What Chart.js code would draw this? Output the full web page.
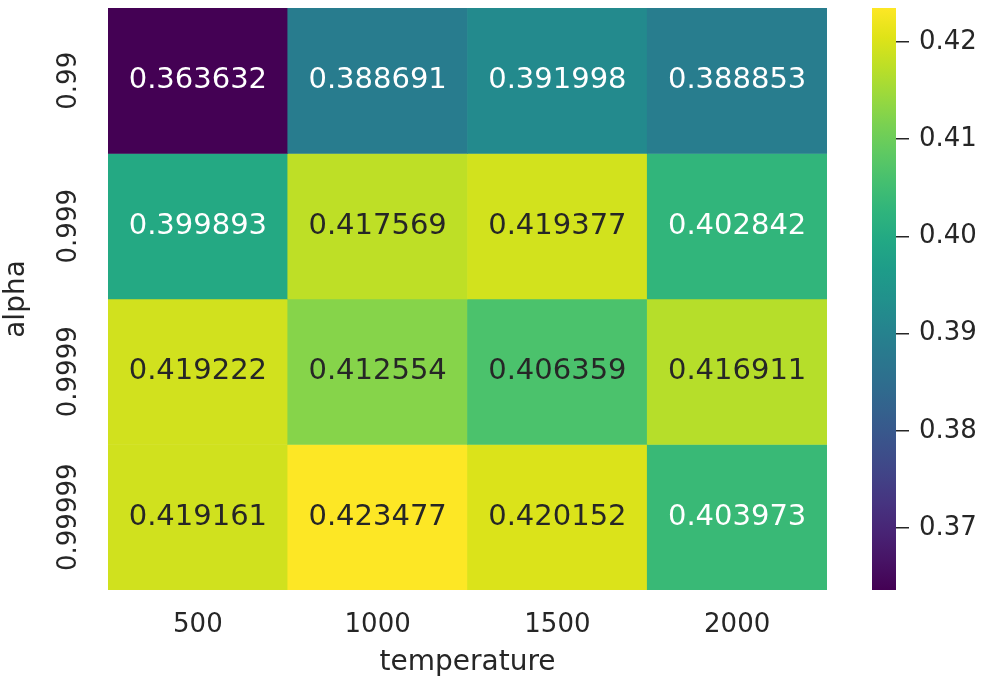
<!DOCTYPE html>
<html>
<head>
<meta charset="utf-8">
<script src="https://cdn.jsdelivr.net/npm/chart.js@4.4.0/dist/chart.umd.min.js"></script>
<style>
  body { margin: 0; background: #fff; width: 995px; height: 688px; overflow: hidden; position: relative; }
  #heat { position: absolute; left: 0; top: 0; }
  #cbar { position: absolute; left: 850px; top: 0; }
</style>
</head>
<body>
<canvas id="heat" width="850" height="688"></canvas>
<canvas id="cbar" width="145" height="688"></canvas>
<script>
// grid search results: rows = alpha, columns = temperature
const temperatures = ["500", "1000", "1500", "2000"];
const alphas = ["0.99", "0.999", "0.9999", "0.99999"];
const alpha099 = [0.363632, 0.388691, 0.391998, 0.388853];
const alpha0999 = [0.399893, 0.417569, 0.419377, 0.402842];
const alpha09999 = [0.419222, 0.412554, 0.406359, 0.416911];
const alpha099999 = [0.419161, 0.423477, 0.420152, 0.403973];
const cbarTicks = [0.37, 0.38, 0.39, 0.40, 0.41, 0.42];

const rows = [alpha099, alpha0999, alpha09999, alpha099999];
const allValues = rows.flat();
const vmin = Math.min(...allValues);
const vmax = Math.max(...allValues);

const TEXT_DARK = "#262626";
Chart.defaults.font.family = "'DejaVu Sans', sans-serif";

/* ------------------------------
   VIRIDIS COLORMAP
--------------------------------*/
const viridis = [
    "#440154", "#471365", "#482475", "#463480", "#414487", "#3b528b", "#355f8d",
    "#2f6c8e", "#2a788e", "#25848e", "#21918c", "#1e9c89", "#22a884", "#2fb47c",
    "#44bf70", "#5ec962", "#7ad151", "#9bd93c", "#bddf26", "#dfe318", "#fde725"
];

function hexToRgb(h) {
    return [1, 3, 5].map(i => parseInt(h.substr(i, 2), 16));
}

function colorRgb(v) {
    let t = (v - vmin) / (vmax - vmin);
    t = Math.max(0, Math.min(1, t));
    const pos = t * (viridis.length - 1);
    const i = Math.min(Math.floor(pos), viridis.length - 2);
    const f = pos - i;
    const a = hexToRgb(viridis[i]), b = hexToRgb(viridis[i + 1]);
    return a.map((c, k) => Math.round(c + (b[k] - c) * f));
}

function colorFor(v) {
    const c = colorRgb(v);
    return `rgb(${c[0]},${c[1]},${c[2]})`;
}

// white text on dark cells, dark text on light ones
function textColorFor(v) {
    const lin = colorRgb(v).map(c => {
        c /= 255;
        return c <= 0.03928 ? c / 12.92 : Math.pow((c + 0.055) / 1.055, 2.4);
    });
    const lum = 0.2126 * lin[0] + 0.7152 * lin[1] + 0.0722 * lin[2];
    return lum > 0.408 ? TEXT_DARK : "#ffffff";
}

/* ------------------------------
   PLUGINS
--------------------------------*/
const cellLabels = {
    id: "cellLabels",
    afterDatasetsDraw(chart) {
        const ctx = chart.ctx;
        ctx.save();
        ctx.font = "29px 'DejaVu Sans'";
        ctx.textAlign = "center";
        ctx.textBaseline = "middle";
        chart.data.datasets.forEach((ds, r) => {
            chart.getDatasetMeta(r).data.forEach((el, c) => {
                const v = rows[r][c];
                ctx.fillStyle = textColorFor(v);
                ctx.fillText(v.toFixed(6), el.x, (el.y + el.base) / 2);
            });
        });
        ctx.restore();
    }
};

const rowLabels = {
    id: "rowLabels",
    afterDraw(chart) {
        const ctx = chart.ctx;
        const ys = chart.scales.y;
        ctx.save();
        ctx.font = "26px 'DejaVu Sans'";
        ctx.fillStyle = TEXT_DARK;
        ctx.textAlign = "center";
        ctx.textBaseline = "middle";
        alphas.forEach((a, r) => {
            ctx.save();
            ctx.translate(69, ys.getPixelForValue(r + 0.5));
            ctx.rotate(-Math.PI / 2);
            ctx.fillText(a, 0, 0);
            ctx.restore();
        });
        ctx.restore();
    }
};

/* ------------------------------
   HEATMAP
--------------------------------*/
new Chart(document.getElementById("heat"), {
    type: "bar",
    data: {
        labels: temperatures,
        datasets: rows.map((vals, r) => ({
            label: alphas[r],
            data: vals.map(() => [r, r + 1]),
            backgroundColor: vals.map(colorFor),
            borderWidth: 0,
            barPercentage: 1,
            categoryPercentage: 1,
            grouped: false
        }))
    },
    options: {
        responsive: false,
        animation: false,
        layout: { padding: { top: 8, right: 23, left: 0, bottom: 0 } },
        plugins: { legend: { display: false }, tooltip: { enabled: false } },
        scales: {
            x: {
                grid: { display: false, drawTicks: false },
                border: { display: false },
                ticks: { color: TEXT_DARK, font: { size: 26 }, padding: 20 },
                title: {
                    display: true, text: "temperature", color: TEXT_DARK,
                    font: { size: 28 }, padding: { top: 0, bottom: 8 }
                },
                afterFit: s => { s.height = 98; }
            },
            y: {
                min: 0, max: 4, reverse: true,
                grid: { display: false, drawTicks: false },
                border: { display: false },
                ticks: { display: false },
                title: {
                    display: true, text: "alpha", color: TEXT_DARK,
                    font: { size: 28 }, padding: { top: 0, bottom: 10 }
                },
                afterFit: s => { s.width = 108; }
            }
        }
    },
    plugins: [cellLabels, rowLabels]
});

/* ------------------------------
   COLORBAR
--------------------------------*/
new Chart(document.getElementById("cbar"), {
    type: "bar",
    data: {
        labels: [""],
        datasets: [{
            data: [[vmin, vmax]],
            borderWidth: 0,
            barPercentage: 1,
            categoryPercentage: 1,
            backgroundColor: ctx => {
                const area = ctx.chart.chartArea;
                if (!area) return viridis[0];
                const g = ctx.chart.ctx.createLinearGradient(0, area.bottom, 0, area.top);
                viridis.forEach((c, i) => g.addColorStop(i / (viridis.length - 1), c));
                return g;
            }
        }]
    },
    options: {
        responsive: false,
        animation: false,
        layout: { padding: { top: 8, bottom: 98, left: 22, right: 0 } },
        plugins: { legend: { display: false }, tooltip: { enabled: false } },
        scales: {
            x: { display: false },
            y: {
                position: "right",
                min: vmin, max: vmax,
                afterBuildTicks: s => { s.ticks = cbarTicks.map(v => ({ value: v })); },
                ticks: {
                    color: TEXT_DARK, font: { size: 26 }, padding: 10,
                    callback: v => v.toFixed(2)
                },
                grid: { drawOnChartArea: false, tickLength: 13, color: TEXT_DARK, lineWidth: 1.5 },
                border: { display: false },
                afterFit: s => {
                    s.width = 99;
                    // tick labels sit well inside the bar, no extra room needed
                    s.paddingTop = 0;
                    s.paddingBottom = 0;
                }
            }
        }
    }
});
</script>
</body>
</html>
